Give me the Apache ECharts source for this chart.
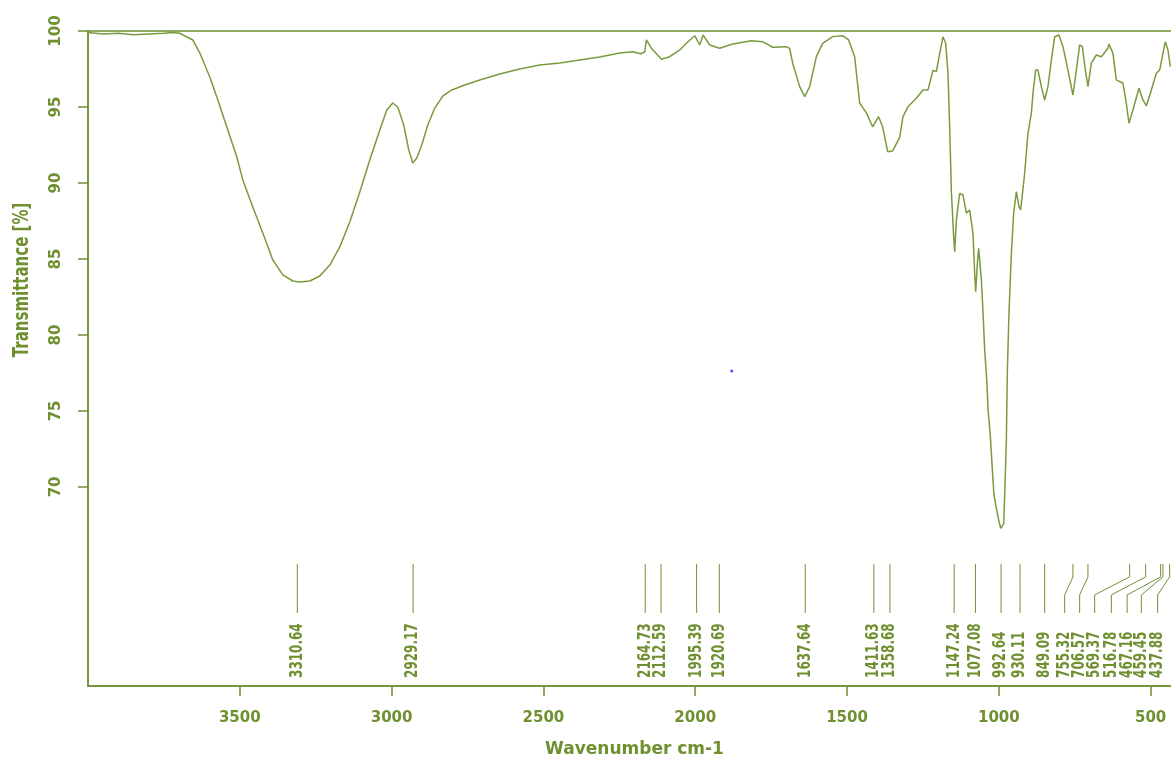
<!DOCTYPE html>
<html>
<head>
<meta charset="utf-8">
<script src="https://cdn.jsdelivr.net/npm/echarts@6/dist/echarts.min.js"></script>
<style>html,body{margin:0;padding:0;background:#fff;}#c{width:1171px;height:765px;}</style>
</head>
<body>
<div id="c"></div>
<script>
// ---- data ----
const wavenumbers = [4000,3950,3900,3850,3800,3750,3720,3697.6,3654.8,3631.7,3598.8,3572.4,3542.8,3509.9,3490.1,3457.2,3424.3,3391.3,3358.4,3325.5,3302.4,3269.5,3236.6,3203.6,3170.7,3137.8,3104.8,3071.9,3038.9,3015.9,2996.2,2979.7,2960,2943.5,2930.3,2917.1,2900.7,2880.9,2857.8,2831.5,2801.9,2759.1,2709.7,2643.8,2578,2512.1,2446.2,2380.3,2314.5,2248.6,2205.8,2180,2166.3,2160.7,2144.3,2111.3,2084,2051,2029,2001.6,1985.2,1974.3,1952.3,1919.4,1876.6,1815,1777.8,1744.9,1699.8,1688.9,1679,1656,1639.5,1623,1601,1580.2,1547.3,1514.4,1494.6,1474.9,1458.4,1436.4,1415.6,1395.9,1382.7,1366.2,1349.8,1326.6,1315.7,1299.2,1271.6,1249.8,1233.4,1222.2,1216.9,1205.7,1194.8,1184,1175.1,1167.5,1161.9,1156.3,1148.7,1145.4,1139.8,1129,1118.1,1106.9,1096,1085.2,1079.6,1076.3,1070.7,1066.4,1060.8,1057.5,1052.2,1046.6,1039.1,1035.8,1027.9,1021.3,1016,1008.1,1000.5,994,984.1,980.8,975.2,971.9,966.6,958.7,951.1,942.3,933.7,928.1,914.9,904.1,892.9,887.6,878.7,871.1,859.9,849.1,838.2,827,816.1,802,788.8,772.3,755.9,744.7,733.8,724.9,715,706.5,695.3,678.8,662.3,640.6,637.3,624.1,613,591.2,580,571.4,558.3,538.5,525.3,514.1,497.7,481.2,470.3,459.5,451.6,443,435.1];
const transmittance = [99.9,99.8,99.85,99.75,99.8,99.85,99.9,99.85,99.41,98.55,96.97,95.46,93.68,91.71,90.2,88.42,86.71,84.93,83.95,83.55,83.49,83.55,83.88,84.6,85.79,87.43,89.41,91.51,93.49,94.8,95.26,95.0,93.82,92.17,91.32,91.64,92.5,93.82,94.93,95.72,96.12,96.45,96.78,97.17,97.5,97.76,97.89,98.09,98.29,98.55,98.64,98.5,98.62,99.41,98.86,98.14,98.31,98.75,99.19,99.69,99.08,99.74,99.08,98.86,99.14,99.36,99.3,98.93,98.97,98.86,97.88,96.34,95.68,96.34,98.31,99.19,99.63,99.69,99.41,98.31,95.26,94.61,93.7,94.36,93.7,92.06,92.11,93.0,94.36,95.02,95.57,96.12,96.12,96.99,97.43,97.32,98.53,99.62,99.19,97.22,93.7,89.43,86.47,85.48,87.57,89.32,89.21,88.01,88.22,86.69,84.06,82.85,84.72,85.7,85.7,83.62,81.53,79.01,76.82,75.18,73.31,71.12,69.47,68.6,67.83,67.28,67.57,69.36,73.09,77.7,81.43,85.38,88.01,89.43,88.44,88.22,90.64,93.27,94.59,95.9,97.43,97.43,96.34,95.46,96.34,98.09,99.62,99.74,98.97,97.43,95.79,97.43,99.08,98.97,97.43,96.34,97.88,98.42,98.31,98.86,99.14,98.53,96.78,96.56,95.24,93.93,94.8,96.23,95.46,95.07,96.12,97.22,97.43,98.53,99.3,98.75,97.65];
const peakPositions = [3310.64,2929.17,2164.73,2112.59,1995.39,1920.69,1637.64,1411.63,1358.68,1147.24,1077.08,992.64,930.11,849.1,755.9,706.5,569.2,516.5,467.1,459.5,437.5];
const peakLabelPositions = [3310.64,2929.17,2164.73,2112.59,1995.39,1920.69,1637.64,1411.63,1358.68,1147.24,1077.08,992.64,930.11,849.1,783.2,733.8,684.4,629.4,577.4,530.6,476.9];
const peakLabels = ['3310.64','2929.17','2164.73','2112.59','1995.39','1920.69','1637.64','1411.63','1358.68','1147.24','1077.08','992.64','930.11','849.09','755.32','706.57','569.37','516.78','467.16','459.45','437.88'];
const xTicks = [500,1000,1500,2000,2500,3000,3500];
const yTicks = [70,75,80,85,90,95,100];
const markerPoint = [[1879.8, 77.63]];

// ---- chart ----
const C = '#6f9030';
const LINE = '#7a9a3e';
const FONT = 'DejaVu Sans';
const spectrum = wavenumbers.map((w, i) => [w, transmittance[i]]);
const peaks = peakPositions.map((p, i) => [p, peakLabelPositions[i]]);
// leader line levels (data units on the transmittance axis)
const L_TOP = 64.93, L_BEND1 = 64.08, L_BEND2 = 62.89, L_BOT = 61.71, L_TEXT = 57.43;

const chart = echarts.init(document.getElementById('c'), null, {renderer: 'canvas'});
chart.setOption({
  animation: false,
  backgroundColor: '#ffffff',
  grid: {left: 88, top: 31, right: -10, bottom: 79, outerBoundsMode: 'none', containLabel: false,
         show: true, borderColor: C, borderWidth: 1.5},
  xAxis: {
    type: 'value', inverse: true, min: 400, max: 4000,
    name: 'Wavenumber cm-1', nameLocation: 'middle', nameGap: 55,
    nameTextStyle: {color: C, fontFamily: FONT, fontWeight: 'bold', fontSize: 17},
    axisLine: {show: true, lineStyle: {color: C, width: 1.5}},
    axisTick: {show: true, customValues: xTicks, length: 10, lineStyle: {color: C, width: 1.5}},
    axisLabel: {customValues: xTicks, formatter: v => String(v), color: C, fontFamily: FONT, fontWeight: 'bold', fontSize: 15, margin: 25},
    splitLine: {show: false}
  },
  yAxis: {
    type: 'value', min: 56.9, max: 100,
    axisLine: {show: true, lineStyle: {color: C, width: 1.5}},
    axisTick: {show: true, customValues: yTicks, length: 10, lineStyle: {color: C, width: 1.5}},
    axisLabel: {customValues: yTicks, formatter: v => String(v), color: C, fontFamily: FONT, fontWeight: 'bold', fontSize: 15, rotate: 90, margin: 24},
    splitLine: {show: false}
  },
  graphic: [{
    type: 'text', x: 23, y: 280, rotation: Math.PI / 2, scaleY: 1.4,
    style: {text: 'Transmittance [%]', fill: C, font: 'bold 15px "DejaVu Sans"', align: 'center', verticalAlign: 'middle'}
  }],
  series: [
    {
      type: 'line', data: spectrum, showSymbol: false, symbol: 'none',
      lineStyle: {color: LINE, width: 1.5}, clip: true, z: 3
    },
    {
      type: 'custom', data: peaks, clip: false, z: 4,
      renderItem: function (params, api) {
        const pk = api.value(0), lb = api.value(1);
        const p1 = api.coord([pk, L_TOP]);
        const p2 = api.coord([pk, L_BEND1]);
        const p3 = api.coord([lb, L_BEND2]);
        const p4 = api.coord([lb, L_BOT]);
        const pt = api.coord([lb, L_TEXT]);
        return {
          type: 'group',
          children: [
            {type: 'polyline', shape: {points: [p1, p2, p3, p4]}, style: {stroke: C, lineWidth: 1, fill: null}},
            {type: 'text', x: pt[0], y: pt[1], rotation: Math.PI / 2, scaleY: 1.4,
             style: {text: peakLabels[params.dataIndex], fill: C, font: 'bold 12px "DejaVu Sans"', align: 'left', verticalAlign: 'middle'}}
          ]
        };
      }
    },
    {
      type: 'scatter', data: markerPoint, symbol: 'circle', symbolSize: 3,
      itemStyle: {color: '#2020ff'}, z: 5
    }
  ]
});
</script>
</body>
</html>
